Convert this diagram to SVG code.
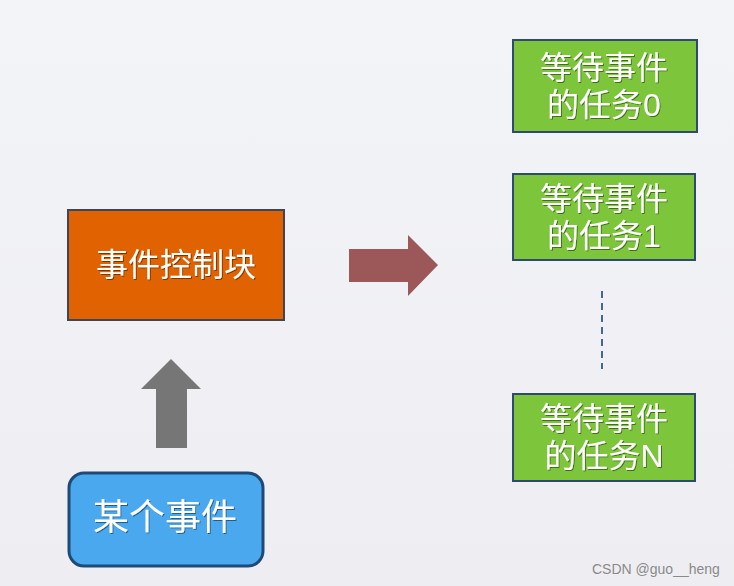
<svg xmlns="http://www.w3.org/2000/svg" width="734" height="586" viewBox="0 0 734 586">
<defs>
<linearGradient id="bg" x1="0" y1="0" x2="0" y2="1">
<stop offset="0" stop-color="#f3f4f8"/>
<stop offset="1" stop-color="#eeeef2"/>
</linearGradient>
<filter id="ts" x="-10%" y="-20%" width="120%" height="140%">
<feDropShadow dx="1" dy="1" stdDeviation="0.6" flood-color="#000" flood-opacity="0.45"/>
</filter>
</defs>
<style>
.t{font-family:"Noto Sans CJK SC","Liberation Sans",sans-serif;fill:#ffffff;text-anchor:middle;filter:url(#ts)}
.t2{font-family:"Liberation Sans","Noto Sans CJK SC",sans-serif;fill:#ffffff;text-anchor:middle;filter:url(#ts)}
.g{fill:#7dc63b;stroke:#2e4a6e;stroke-width:2}
.wm{font-family:"Liberation Sans",sans-serif;font-size:14px;fill:#8a8a8a}
</style>
<rect width="734" height="586" fill="url(#bg)"/>
<g id="connectors">
<polygon id="arrow-up" points="171,359 201,389 187,389 187,448 156,448 156,389 141,389" fill="#767676"/>
<polygon id="arrow-right" points="349,249 408,249 408,235 438,265 408,296 408,282 349,282" fill="#9c5858"/>
<line id="dots" x1="602" y1="291" x2="602" y2="369" stroke="#3f6b8c" stroke-width="2" stroke-dasharray="7,5"/>
</g>
<g id="ecb">
<rect x="68" y="210" width="216" height="110" fill="#e06200" stroke="#3c4656" stroke-width="2"/>
<text class="t" x="176" y="276" font-size="32">事件控制块</text>
</g>
<g id="event">
<rect x="69" y="473" width="194" height="93" rx="15" fill="#4aa8ef" stroke="#1f4a78" stroke-width="3"/>
<text class="t" x="165" y="530" font-size="36">某个事件</text>
</g>
<g id="task0">
<rect class="g" x="513" y="40" width="184" height="92"/>
<text class="t2" x="604" y="79" font-size="32"><tspan x="604" y="79">等待事件</tspan><tspan x="604" y="116">的任务0</tspan></text>
</g>
<g id="task1">
<rect class="g" x="513" y="174" width="182" height="86"/>
<text class="t2" x="604" y="210" font-size="32"><tspan x="604" y="210">等待事件</tspan><tspan x="604" y="247">的任务1</tspan></text>
</g>
<g id="taskN">
<rect class="g" x="513" y="394" width="182" height="87"/>
<text class="t2" x="604" y="430" font-size="32"><tspan x="604" y="430">等待事件</tspan><tspan x="604" y="467">的任务N</tspan></text>
</g>
<text class="wm" x="592" y="574">CSDN @guo__heng</text>
</svg>
